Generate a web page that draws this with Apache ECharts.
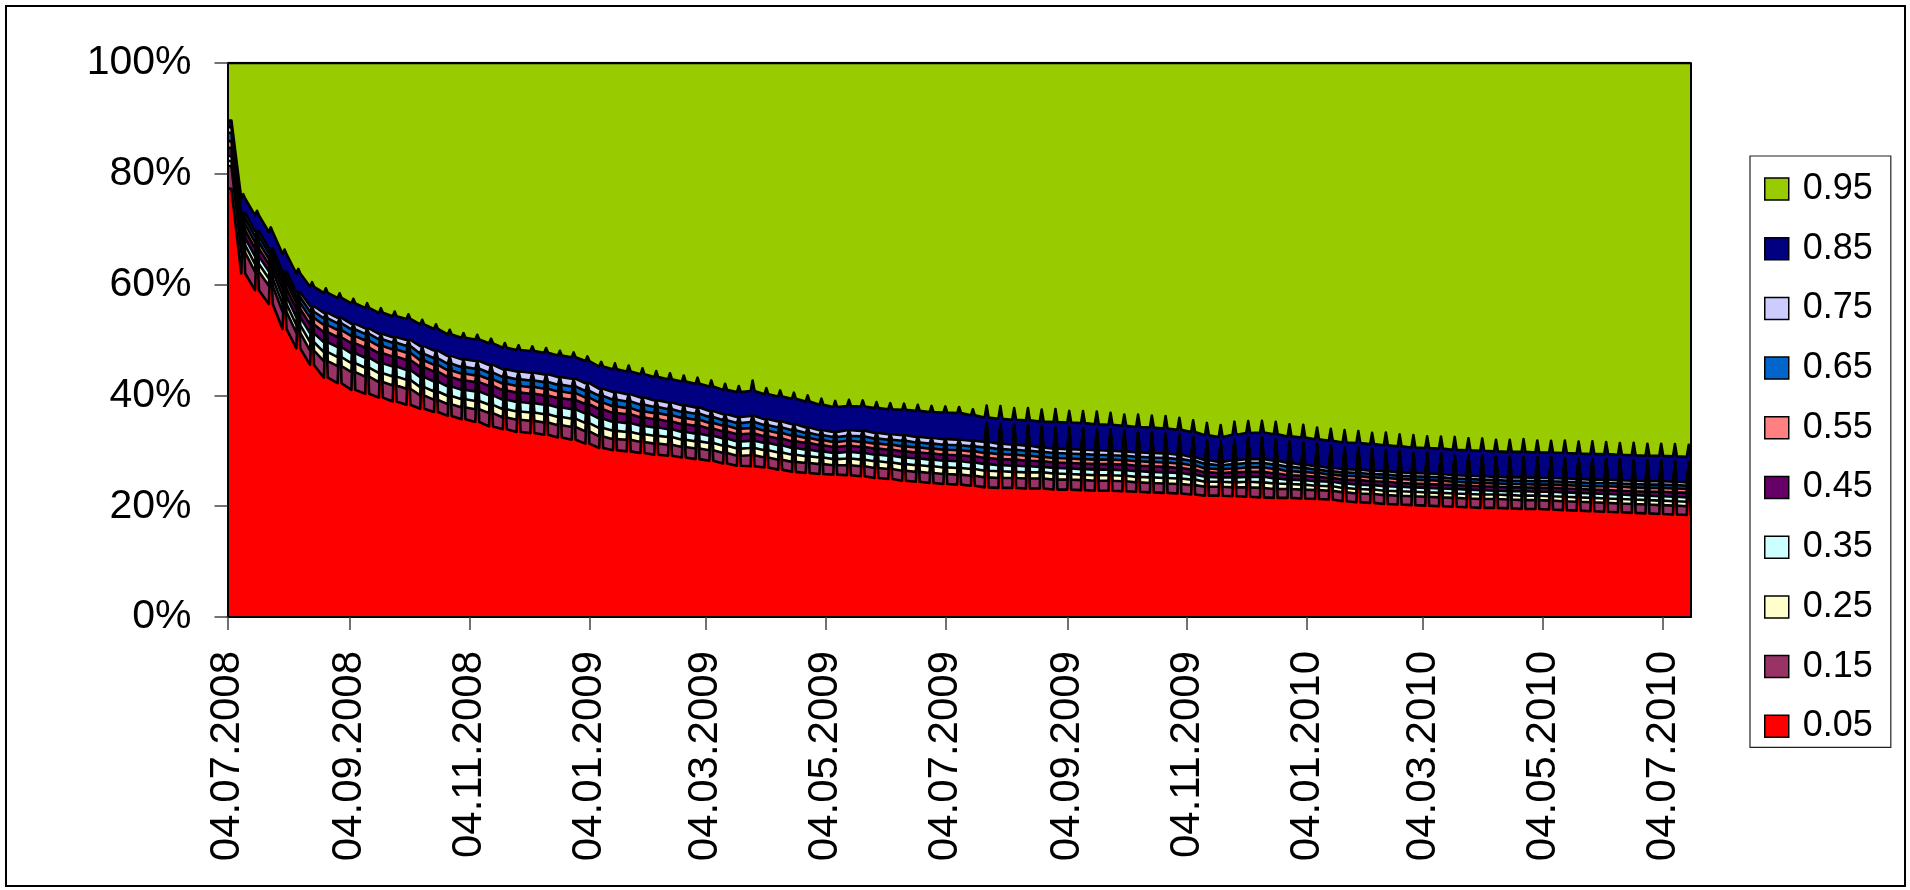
<!DOCTYPE html>
<html>
<head>
<meta charset="utf-8">
<script src="https://cdn.jsdelivr.net/npm/echarts@6/dist/echarts.min.js"></script>
<style>
html,body{margin:0;padding:0;background:#fff;}
#chart{position:absolute;left:0;top:0;width:1910px;height:890px;}
#frame{position:absolute;left:5px;top:5px;width:1897px;height:878px;border:2.5px solid #000;pointer-events:none;}
</style>
</head>
<body>
<div id="chart"></div>
<div id="frame"></div>
<script>
// ---- series names (bottom -> top of the stack) ----
const seriesNames = ['0.05','0.15','0.25','0.35','0.45','0.55','0.65','0.75','0.85','0.95'];
const seriesColors = ['#FF0000','#993366','#FFFFCC','#CCFFFF','#660066','#FF8080','#0066CC','#CCCCFF','#000080','#99CC00'];

// ---- x tick labels ----
const xTickLabels = ['04.07.2008','04.09.2008','04.11.2008','04.01.2009','04.03.2009','04.05.2009','04.07.2009',
  '04.09.2009','04.11.2009','04.01.2010','04.03.2010','04.05.2010','04.07.2010'];
const firstDate = '04.07.2008';
const lastDate = '18.07.2010';

// ---- weekly readings: level between the weekly spikes (_week) and on the spike day (_spike) ----
const q05_week = [77.3,62.0,59.0,56.5,52.0,48.5,45.5,43.2,42.2,41.0,
 40.3,39.6,38.9,38.3,37.6,37.0,36.3,35.7,35.2,34.4,
 33.9,33.4,33.2,32.9,32.4,32.0,31.3,30.5,30.1,29.9,
 29.6,29.3,29.1,28.8,28.5,28.2,27.7,27.3,27.2,27.0,
 26.6,26.2,26.0,25.8,25.7,25.6,25.4,25.1,24.9,24.6,
 24.4,24.2,24.0,23.9,23.7,23.4,23.3,23.3,23.2,23.2,
 23.0,23.0,22.9,22.8,22.8,22.7,22.6,22.5,22.4,22.3,
 22.1,21.9,21.9,21.8,21.7,21.6,21.5,21.5,21.4,21.3,
 21.2,20.9,20.7,20.6,20.4,20.3,20.2,20.1,20.0,19.9,
 19.8,19.7,19.7,19.6,19.5,19.5,19.4,19.3,19.2,19.1,
 19.0,18.9,18.8,18.7,18.6,18.5,18.4];
const q05_spike = [77.3,71.8,68.5,65.4,61.2,57.5,55.0,53.8,52.9,51.8,
 51.0,50.0,49.4,48.9,47.8,47.0,46.0,45.4,45.1,44.4,
 43.6,43.2,43.0,42.7,42.2,41.9,41.1,40.1,39.8,39.4,
 38.8,38.3,37.9,37.4,37.0,36.4,35.8,35.3,35.5,34.9,
 34.5,34.0,33.4,32.9,32.6,32.9,32.8,32.4,32.2,32.0,
 31.7,31.5,31.3,31.2,31.0,34.4,34.2,34.0,33.9,33.7,
 33.6,33.5,33.4,33.2,33.1,32.9,32.7,32.6,32.4,32.2,
 31.8,31.2,30.9,31.3,31.6,31.7,31.4,31.0,30.8,30.5,
 30.2,29.9,29.8,29.6,29.4,29.2,29.0,28.9,28.8,28.6,
 28.5,28.4,28.3,28.2,28.2,28.1,28.1,28.0,27.9,27.8,
 27.8,27.7,27.6,27.5,27.5,27.4,27.3];

const q15_week = [4.1,3.8,3.3,3.3,3.1,2.8,2.6,3.0,3.1,3.2,
 3.1,2.8,2.9,2.9,2.4,2.2,2.1,2.1,2.3,2.4,
 2.1,2.2,2.2,2.2,2.2,2.3,2.2,2.1,2.0,2.1,
 2.0,2.0,2.0,1.9,1.9,1.9,1.9,1.8,2.0,1.8,
 1.8,1.8,1.8,1.8,1.7,1.8,1.8,1.8,1.8,1.8,
 1.8,1.8,1.8,1.8,1.8,1.8,1.8,1.8,1.8,1.8,
 1.8,1.8,1.8,1.8,1.8,1.8,1.7,1.7,1.7,1.7,
 1.7,1.6,1.6,1.6,1.7,1.7,1.6,1.6,1.6,1.6,
 1.6,1.6,1.6,1.6,1.6,1.6,1.6,1.6,1.6,1.6,
 1.6,1.6,1.6,1.6,1.6,1.6,1.6,1.6,1.6,1.6,
 1.6,1.6,1.6,1.6,1.6,1.6,1.6];
const q15_spike = [4.1,0.3,0.3,0.3,0.3,0.3,0.3,0.3,0.3,0.3,
 0.3,0.3,0.3,0.3,0.3,0.3,0.3,0.3,0.3,0.3,
 0.3,0.3,0.3,0.3,0.3,0.3,0.3,0.3,0.25,0.25,
 0.25,0.25,0.25,0.25,0.25,0.25,0.25,0.25,0.25,0.25,
 0.25,0.25,0.25,0.25,0.25,0.25,0.25,0.25,0.25,0.25,
 0.25,0.25,0.25,0.25,0.25,0.2,0.2,0.2,0.2,0.2,
 0.2,0.2,0.2,0.2,0.2,0.2,0.2,0.2,0.2,0.2,
 0.2,0.2,0.2,0.2,0.2,0.2,0.2,0.2,0.2,0.2,
 0.2,0.2,0.2,0.2,0.2,0.2,0.2,0.2,0.2,0.2,
 0.2,0.2,0.2,0.2,0.2,0.2,0.2,0.2,0.2,0.2,
 0.2,0.2,0.2,0.2,0.2,0.2,0.2];

const q25_week = [0.9,1.3,1.4,1.3,1.4,1.4,1.5,1.6,1.6,1.6,
 1.6,1.6,1.6,1.6,1.5,1.5,1.5,1.5,1.5,1.5,
 1.5,1.5,1.5,1.5,1.5,1.5,1.5,1.5,1.5,1.4,
 1.4,1.4,1.4,1.3,1.3,1.3,1.3,1.3,1.3,1.3,
 1.3,1.3,1.2,1.2,1.1,1.2,1.2,1.2,1.2,1.2,
 1.2,1.2,1.2,1.2,1.2,1.2,1.2,1.1,1.1,1.1,
 1.1,1.0,1.0,1.0,1.0,1.0,1.0,1.0,1.0,1.0,
 1.0,0.9,0.9,0.9,1.0,1.0,1.0,0.9,0.9,0.8,
 0.8,0.8,0.8,0.8,0.8,0.8,0.8,0.8,0.8,0.8,
 0.8,0.8,0.8,0.8,0.8,0.8,0.8,0.8,0.8,0.8,
 0.8,0.8,0.8,0.8,0.8,0.8,0.8];
const q25_spike = [0.9,0.15,0.15,0.15,0.15,0.15,0.15,0.15,0.15,0.15,
 0.15,0.15,0.15,0.15,0.15,0.15,0.15,0.15,0.15,0.15,
 0.15,0.15,0.15,0.15,0.15,0.15,0.15,0.15,0.12,0.12,
 0.12,0.12,0.12,0.12,0.12,0.12,0.12,0.12,0.12,0.12,
 0.12,0.12,0.12,0.12,0.12,0.12,0.12,0.12,0.12,0.12,
 0.12,0.12,0.12,0.12,0.12,0.1,0.1,0.1,0.1,0.1,
 0.1,0.1,0.1,0.1,0.1,0.1,0.1,0.1,0.1,0.1,
 0.1,0.1,0.1,0.1,0.1,0.1,0.1,0.1,0.1,0.1,
 0.1,0.1,0.1,0.1,0.1,0.1,0.1,0.1,0.1,0.1,
 0.1,0.1,0.1,0.1,0.1,0.1,0.1,0.1,0.1,0.1,
 0.1,0.1,0.1,0.1,0.1,0.1,0.1];

const q35_week = [0.9,1.3,1.4,1.3,1.4,1.4,1.6,1.8,1.8,1.8,
 1.8,1.8,1.8,1.8,1.8,1.8,1.7,1.7,1.7,1.7,
 1.7,1.7,1.7,1.7,1.7,1.7,1.7,1.7,1.6,1.6,
 1.5,1.5,1.4,1.4,1.4,1.3,1.3,1.3,1.3,1.3,
 1.3,1.2,1.2,1.1,1.1,1.2,1.2,1.2,1.2,1.2,
 1.2,1.2,1.2,1.2,1.2,1.2,1.1,1.1,1.1,1.0,
 1.0,1.0,1.0,1.0,1.0,1.0,1.0,1.0,1.0,1.0,
 0.9,0.9,0.8,0.9,0.9,1.0,0.9,0.8,0.8,0.8,
 0.8,0.8,0.8,0.8,0.8,0.8,0.8,0.8,0.8,0.8,
 0.8,0.8,0.7,0.7,0.8,0.7,0.8,0.8,0.8,0.8,
 0.8,0.8,0.8,0.8,0.8,0.8,0.8];
const q35_spike = [0.9,0.15,0.15,0.15,0.15,0.15,0.15,0.15,0.15,0.15,
 0.15,0.15,0.15,0.15,0.15,0.15,0.15,0.15,0.15,0.15,
 0.15,0.15,0.15,0.15,0.15,0.15,0.15,0.15,0.12,0.12,
 0.12,0.12,0.12,0.12,0.12,0.12,0.12,0.12,0.12,0.12,
 0.12,0.12,0.12,0.12,0.12,0.12,0.12,0.12,0.12,0.12,
 0.12,0.12,0.12,0.12,0.12,0.1,0.1,0.1,0.1,0.1,
 0.1,0.1,0.1,0.1,0.1,0.1,0.1,0.1,0.1,0.1,
 0.1,0.1,0.1,0.1,0.1,0.1,0.1,0.1,0.1,0.1,
 0.1,0.1,0.1,0.1,0.1,0.1,0.1,0.1,0.1,0.1,
 0.1,0.1,0.1,0.1,0.1,0.1,0.1,0.1,0.1,0.1,
 0.1,0.1,0.1,0.1,0.1,0.1,0.1];

const q45_week = [1.5,1.4,1.4,1.3,1.4,1.5,1.6,1.8,1.8,1.8,
 1.8,1.8,1.8,1.8,1.8,1.8,1.7,1.7,1.7,1.7,
 1.7,1.7,1.7,1.7,1.7,1.7,1.7,1.7,1.6,1.6,
 1.5,1.5,1.4,1.4,1.4,1.3,1.3,1.3,1.3,1.2,
 1.2,1.2,1.2,1.1,1.1,1.1,1.1,1.1,1.1,1.1,
 1.1,1.1,1.1,1.1,1.1,1.1,1.1,1.1,1.0,1.0,
 1.0,1.0,1.0,1.0,1.0,1.0,1.0,1.0,1.0,0.9,
 0.9,0.8,0.8,0.9,0.9,0.9,0.9,0.8,0.8,0.8,
 0.7,0.7,0.8,0.7,0.8,0.7,0.7,0.7,0.7,0.7,
 0.7,0.7,0.7,0.7,0.7,0.7,0.7,0.7,0.7,0.7,
 0.7,0.7,0.7,0.7,0.8,0.8,0.8];
const q45_spike = [1.5,0.15,0.15,0.15,0.15,0.15,0.15,0.15,0.15,0.15,
 0.15,0.15,0.15,0.15,0.15,0.15,0.15,0.15,0.15,0.15,
 0.15,0.15,0.15,0.15,0.15,0.15,0.15,0.15,0.12,0.12,
 0.12,0.12,0.12,0.12,0.12,0.12,0.12,0.12,0.12,0.12,
 0.12,0.12,0.12,0.12,0.12,0.12,0.12,0.12,0.12,0.12,
 0.12,0.12,0.12,0.12,0.12,0.1,0.1,0.1,0.1,0.1,
 0.1,0.1,0.1,0.1,0.1,0.1,0.1,0.1,0.1,0.1,
 0.1,0.1,0.1,0.1,0.1,0.1,0.1,0.1,0.1,0.1,
 0.1,0.1,0.1,0.1,0.1,0.1,0.1,0.1,0.1,0.1,
 0.1,0.1,0.1,0.1,0.1,0.1,0.1,0.1,0.1,0.1,
 0.1,0.1,0.1,0.1,0.1,0.1,0.1];

const q55_week = [1.2,1.1,1.1,1.0,1.1,1.1,1.2,1.3,1.3,1.3,
 1.3,1.3,1.3,1.3,1.2,1.2,1.2,1.2,1.2,1.2,
 1.2,1.2,1.2,1.2,1.2,1.2,1.2,1.2,1.2,1.1,
 1.1,1.1,1.1,1.1,1.1,1.0,1.0,1.0,1.0,1.0,
 1.0,1.0,0.9,0.9,0.9,0.9,0.9,0.9,0.9,0.9,
 0.9,0.9,0.9,0.9,0.9,0.9,0.9,0.9,0.9,0.8,
 0.8,0.8,0.8,0.8,0.8,0.8,0.8,0.8,0.8,0.8,
 0.8,0.7,0.7,0.7,0.8,0.8,0.8,0.7,0.7,0.7,
 0.6,0.7,0.7,0.7,0.7,0.7,0.7,0.7,0.7,0.6,
 0.6,0.6,0.6,0.6,0.6,0.6,0.6,0.6,0.6,0.6,
 0.7,0.7,0.7,0.7,0.7,0.7,0.7];
const q55_spike = [1.2,0.15,0.15,0.15,0.15,0.15,0.15,0.15,0.15,0.15,
 0.15,0.15,0.15,0.15,0.15,0.15,0.15,0.15,0.15,0.15,
 0.15,0.15,0.15,0.15,0.15,0.15,0.15,0.15,0.12,0.12,
 0.12,0.12,0.12,0.12,0.12,0.12,0.12,0.12,0.12,0.12,
 0.12,0.12,0.12,0.12,0.12,0.12,0.12,0.12,0.12,0.12,
 0.12,0.12,0.12,0.12,0.12,0.1,0.1,0.1,0.1,0.1,
 0.1,0.1,0.1,0.1,0.1,0.1,0.1,0.1,0.1,0.1,
 0.1,0.1,0.1,0.1,0.1,0.1,0.1,0.1,0.1,0.1,
 0.1,0.1,0.1,0.1,0.1,0.1,0.1,0.1,0.1,0.1,
 0.1,0.1,0.1,0.1,0.1,0.1,0.1,0.1,0.1,0.1,
 0.1,0.1,0.1,0.1,0.1,0.1,0.1];

const q65_week = [1.5,1.1,1.1,1.0,1.0,1.0,1.1,1.2,1.2,1.2,
 1.2,1.2,1.2,1.2,1.2,1.2,1.2,1.2,1.2,1.2,
 1.2,1.2,1.2,1.2,1.2,1.2,1.2,1.2,1.2,1.2,
 1.2,1.1,1.1,1.1,1.1,1.1,1.0,1.0,1.1,1.0,
 1.0,1.0,0.9,0.9,0.9,0.9,1.0,0.9,0.9,1.0,
 0.9,0.9,0.9,0.9,0.9,1.0,0.9,0.9,0.9,0.9,
 0.9,0.9,0.9,0.9,0.8,0.8,0.8,0.8,0.8,0.8,
 0.8,0.8,0.7,0.8,0.8,0.8,0.8,0.8,0.7,0.6,
 0.6,0.6,0.6,0.6,0.6,0.6,0.6,0.6,0.6,0.6,
 0.6,0.6,0.6,0.6,0.6,0.6,0.6,0.6,0.6,0.6,
 0.6,0.6,0.6,0.6,0.6,0.6,0.6];
const q65_spike = [1.5,0.15,0.15,0.15,0.15,0.15,0.15,0.15,0.15,0.15,
 0.15,0.15,0.15,0.15,0.15,0.15,0.15,0.15,0.15,0.15,
 0.15,0.15,0.15,0.15,0.15,0.15,0.15,0.15,0.12,0.12,
 0.12,0.12,0.12,0.12,0.12,0.12,0.12,0.12,0.12,0.12,
 0.12,0.12,0.12,0.12,0.12,0.12,0.12,0.12,0.12,0.12,
 0.12,0.12,0.12,0.12,0.12,0.1,0.1,0.1,0.1,0.1,
 0.1,0.1,0.1,0.1,0.1,0.1,0.1,0.1,0.1,0.1,
 0.1,0.1,0.1,0.1,0.1,0.1,0.1,0.1,0.1,0.1,
 0.1,0.1,0.1,0.1,0.1,0.1,0.1,0.1,0.1,0.1,
 0.1,0.1,0.1,0.1,0.1,0.1,0.1,0.1,0.1,0.1,
 0.1,0.1,0.1,0.1,0.1,0.1,0.1];

const q75_week = [1.0,0.9,0.9,0.8,0.9,0.9,1.0,1.0,1.0,1.0,
 1.0,1.0,1.0,1.1,1.4,1.4,1.4,1.4,1.4,1.4,
 1.4,1.4,1.4,1.4,1.4,1.4,1.4,1.3,1.4,1.3,
 1.3,1.2,1.2,1.2,1.1,1.1,1.1,1.1,1.1,1.1,
 1.1,1.1,1.0,0.9,0.9,1.0,1.0,1.0,1.0,1.0,
 1.0,1.0,1.0,1.0,1.0,1.0,1.0,0.9,0.9,0.8,
 0.8,0.8,0.8,0.8,0.8,0.8,0.8,0.8,0.8,0.8,
 0.7,0.7,0.6,0.7,0.7,0.7,0.7,0.7,0.6,0.6,
 0.6,0.6,0.6,0.6,0.6,0.6,0.6,0.6,0.6,0.6,
 0.6,0.6,0.6,0.6,0.6,0.6,0.6,0.6,0.6,0.6,
 0.6,0.6,0.6,0.6,0.6,0.6,0.6];
const q75_spike = [1.0,0.15,0.15,0.15,0.15,0.15,0.15,0.15,0.15,0.15,
 0.15,0.15,0.15,0.15,0.15,0.15,0.15,0.15,0.15,0.15,
 0.15,0.15,0.15,0.15,0.15,0.15,0.15,0.15,0.12,0.12,
 0.12,0.12,0.12,0.12,0.12,0.12,0.12,0.12,0.12,0.12,
 0.12,0.12,0.12,0.12,0.12,0.12,0.12,0.12,0.12,0.12,
 0.12,0.12,0.12,0.12,0.12,0.1,0.1,0.1,0.1,0.1,
 0.1,0.1,0.1,0.1,0.1,0.1,0.1,0.1,0.1,0.1,
 0.1,0.1,0.1,0.1,0.1,0.1,0.1,0.1,0.1,0.1,
 0.1,0.1,0.1,0.1,0.1,0.1,0.1,0.1,0.1,0.1,
 0.1,0.1,0.1,0.1,0.1,0.1,0.1,0.1,0.1,0.1,
 0.1,0.1,0.1,0.1,0.1,0.1,0.1];

const q85_week = [1.2,2.6,2.9,3.0,3.2,3.4,3.5,3.6,3.6,3.7,
 3.7,3.8,3.8,3.8,3.9,3.9,3.9,3.9,3.9,3.9,
 3.9,3.9,3.9,3.9,3.9,3.9,4.0,4.0,4.1,4.1,
 4.2,4.2,4.2,4.3,4.3,4.4,4.4,4.5,4.5,4.5,
 4.5,4.6,4.7,4.6,4.5,4.4,4.4,4.5,4.5,4.6,
 4.7,4.7,4.8,4.8,4.6,4.4,4.5,4.5,4.6,4.7,
 4.8,4.8,4.8,4.7,4.7,4.6,4.6,4.6,4.5,4.5,
 4.5,4.5,4.5,4.6,4.7,4.8,4.8,4.8,4.9,4.9,
 4.9,4.8,4.8,4.8,4.7,4.7,4.6,4.6,4.6,4.6,
 4.6,4.6,4.6,4.6,4.6,4.6,4.6,4.6,4.6,4.6,
 4.6,4.6,4.6,4.6,4.6,4.6,4.6];
const q85_spike = [1.2,3.4,3.7,3.8,4.0,4.2,4.3,4.4,4.4,4.5,
 4.5,4.6,4.6,4.6,4.7,4.7,4.7,4.7,4.7,4.7,
 4.7,4.7,4.7,4.7,4.7,4.7,4.8,4.8,5.1,5.1,
 5.2,5.2,5.2,5.3,5.3,5.4,5.4,5.5,6.3,5.5,
 5.5,5.6,5.7,5.6,5.5,5.4,5.4,5.5,5.5,5.6,
 5.7,5.7,5.8,5.8,5.6,3.0,3.2,2.9,3.1,3.0,
 3.3,2.9,3.0,3.2,3.0,2.8,3.1,3.0,3.2,3.0,
 2.9,3.1,3.0,3.3,3.0,2.9,3.1,3.0,3.2,2.9,
 3.0,3.1,3.0,2.8,3.2,3.0,3.1,2.9,3.0,3.2,
 3.0,3.1,2.9,3.0,3.2,3.0,2.9,3.1,3.0,3.2,
 3.0,2.9,3.1,3.0,3.0,3.1,3.0];

const q95_week = [10.4,24.5,27.5,30.5,34.5,38.0,40.4,41.5,42.4,43.4,
 44.2,45.1,45.7,46.2,47.2,48.0,49.0,49.6,49.9,50.6,
 51.4,51.8,52.0,52.3,52.8,53.1,53.8,54.8,55.3,55.7,
 56.2,56.7,57.1,57.5,57.9,58.4,59.0,59.4,59.2,59.8,
 60.2,60.6,61.1,61.7,62.1,61.9,62.0,62.3,62.5,62.6,
 62.8,63.0,63.1,63.2,63.6,64.0,64.2,64.4,64.5,64.7,
 64.8,64.9,65.0,65.2,65.3,65.5,65.7,65.8,66.0,66.2,
 66.6,67.2,67.5,67.1,66.8,66.7,67.0,67.4,67.6,67.9,
 68.2,68.5,68.6,68.8,69.0,69.2,69.4,69.5,69.6,69.8,
 69.9,70.0,70.1,70.2,70.2,70.3,70.3,70.4,70.5,70.6,
 70.6,70.7,70.8,70.9,70.9,71.0,71.1];
const q95_spike = [10.4,23.7,26.7,29.7,33.7,37.2,39.6,40.7,41.6,42.6,
 43.4,44.3,44.9,45.4,46.4,47.2,48.2,48.8,49.1,49.8,
 50.6,51.0,51.2,51.5,52.0,52.3,53.0,54.0,54.3,54.7,
 55.2,55.7,56.1,56.5,56.9,57.4,58.0,58.4,57.4,58.8,
 59.2,59.6,60.1,60.7,61.1,60.9,61.0,61.3,61.5,61.6,
 61.8,62.0,62.1,62.2,62.6,61.9,62.1,62.3,62.4,62.6,
 62.7,62.8,62.9,63.1,63.2,63.4,63.6,63.7,63.9,64.1,
 64.5,65.1,65.4,65.0,64.7,64.6,64.9,65.3,65.5,65.8,
 66.1,66.4,66.5,66.7,66.9,67.1,67.3,67.4,67.5,67.7,
 67.8,67.9,68.0,68.1,68.1,68.2,68.2,68.3,68.4,68.5,
 68.5,68.6,68.7,68.8,68.8,68.9,69.0];

// ---- build the table the library needs ----
const weekly = [[q05_week,q05_spike],[q15_week,q15_spike],[q25_week,q25_spike],[q35_week,q35_spike],
  [q45_week,q45_spike],[q55_week,q55_spike],[q65_week,q65_spike],[q75_week,q75_spike],
  [q85_week,q85_spike],[q95_week,q95_spike]];

function parseDMY(s){ const p = s.split('.'); return Date.UTC(+p[2], +p[1]-1, +p[0]); }
const DAY = 86400000;
const t0 = parseDMY(firstDate);
const t1 = parseDMY(lastDate);
const nWeeks = q05_week.length;

// per week: day before spike, spike day, day after spike
const xs = [];
const raw = weekly.map(() => []);
for (let k = 0; k < nWeeks; k++) {
  const dd = [7*k, 7*k+1, 7*k+2];
  dd.forEach((d, j) => {
    xs.push(t0 + d*DAY);
    weekly.forEach((pair, s) => raw[s].push(j === 1 ? pair[1][k] : pair[0][k]));
  });
}
// 100% stacking: each point as share of the column total
const totals = xs.map((_, i) => raw.reduce((a, r) => a + r[i], 0));

const series = seriesNames.map((name, s) => ({
  name: name,
  type: 'line',
  stack: 'total',
  xAxisIndex: 0,
  yAxisIndex: 0,
  symbol: 'none',
  showSymbol: false,
  z: 20 - s,
  color: seriesColors[s],
  itemStyle: { color: seriesColors[s] },
  lineStyle: { color: '#000', width: 2.6, join: 'round' },
  areaStyle: { color: seriesColors[s], opacity: 1 },
  emphasis: { disabled: true },
  data: xs.map((x, i) => [x, raw[s][i] * 100 / totals[i]])
}));

const tickValues = xTickLabels.map(parseDMY);
function pad(n){ return (n < 10 ? '0' : '') + n; }

const FONT = "'Liberation Sans', Arial, sans-serif";
const chart = echarts.init(document.getElementById('chart'), null, { renderer: 'canvas' });
chart.setOption({
  animation: false,
  useUTC: true,
  backgroundColor: '#fff',
  grid: { left: 227.5, right: 219.3, top: 63, bottom: 273, containLabel: false },
  xAxis: [{
    // time axis that carries the data (stacking happens along it)
    type: 'time',
    min: t0,
    max: t1,
    position: 'bottom',
    axisLine: { show: false },
    axisTick: { show: false },
    axisLabel: { show: false },
    splitLine: { show: false }
  }, {
    // same scale, used for the dd.mm.yyyy ticks and labels
    type: 'value',
    min: t0,
    max: t1,
    position: 'bottom',
    z: 50,
    axisLine: { show: true, onZero: false, lineStyle: { color: '#000', width: 2 } },
    axisTick: { show: true, length: 13, inside: false, customValues: tickValues, lineStyle: { color: '#444', width: 1.5 } },
    axisLabel: {
      customValues: tickValues,
      rotate: 90,
      margin: 34,
      fontSize: 42,
      fontFamily: FONT,
      color: '#000',
      formatter: function (v) {
        const d = new Date(v);
        return pad(d.getUTCDate()) + '.' + pad(d.getUTCMonth() + 1) + '.' + d.getUTCFullYear();
      }
    },
    splitLine: { show: false },
    minorTick: { show: false }
  }],
  yAxis: [{
    type: 'value',
    min: 0, max: 100, interval: 20,
    z: 50,
    axisLine: { show: true, lineStyle: { color: '#000', width: 2 } },
    axisTick: { show: true, length: 13, inside: false, lineStyle: { color: '#444', width: 1.5 } },
    axisLabel: { formatter: '{value}%', fontSize: 41, fontFamily: FONT, color: '#000', margin: 36 },
    splitLine: { show: false }
  }, {
    type: 'value',
    position: 'right',
    min: 0, max: 100,
    z: 50,
    axisLine: { show: true, lineStyle: { color: '#000', width: 2 } },
    axisTick: { show: false },
    axisLabel: { show: false },
    splitLine: { show: false }
  }],
  legend: {
    orient: 'vertical',
    left: 1750,
    top: 156,
    icon: 'rect',
    itemWidth: 24,
    itemHeight: 22,
    itemGap: 23.7,
    padding: [15, 18, 3, 14],
    backgroundColor: '#fff',
    borderColor: '#222',
    borderWidth: 1.2,
    selectedMode: false,
    itemStyle: { borderColor: '#000', borderWidth: 1.5 },
    textStyle: { fontSize: 36, fontFamily: FONT, color: '#000', padding: [0, 0, 0, 9] },
    data: seriesNames.slice().reverse()
  },
  series: series
});
</script>
</body>
</html>
